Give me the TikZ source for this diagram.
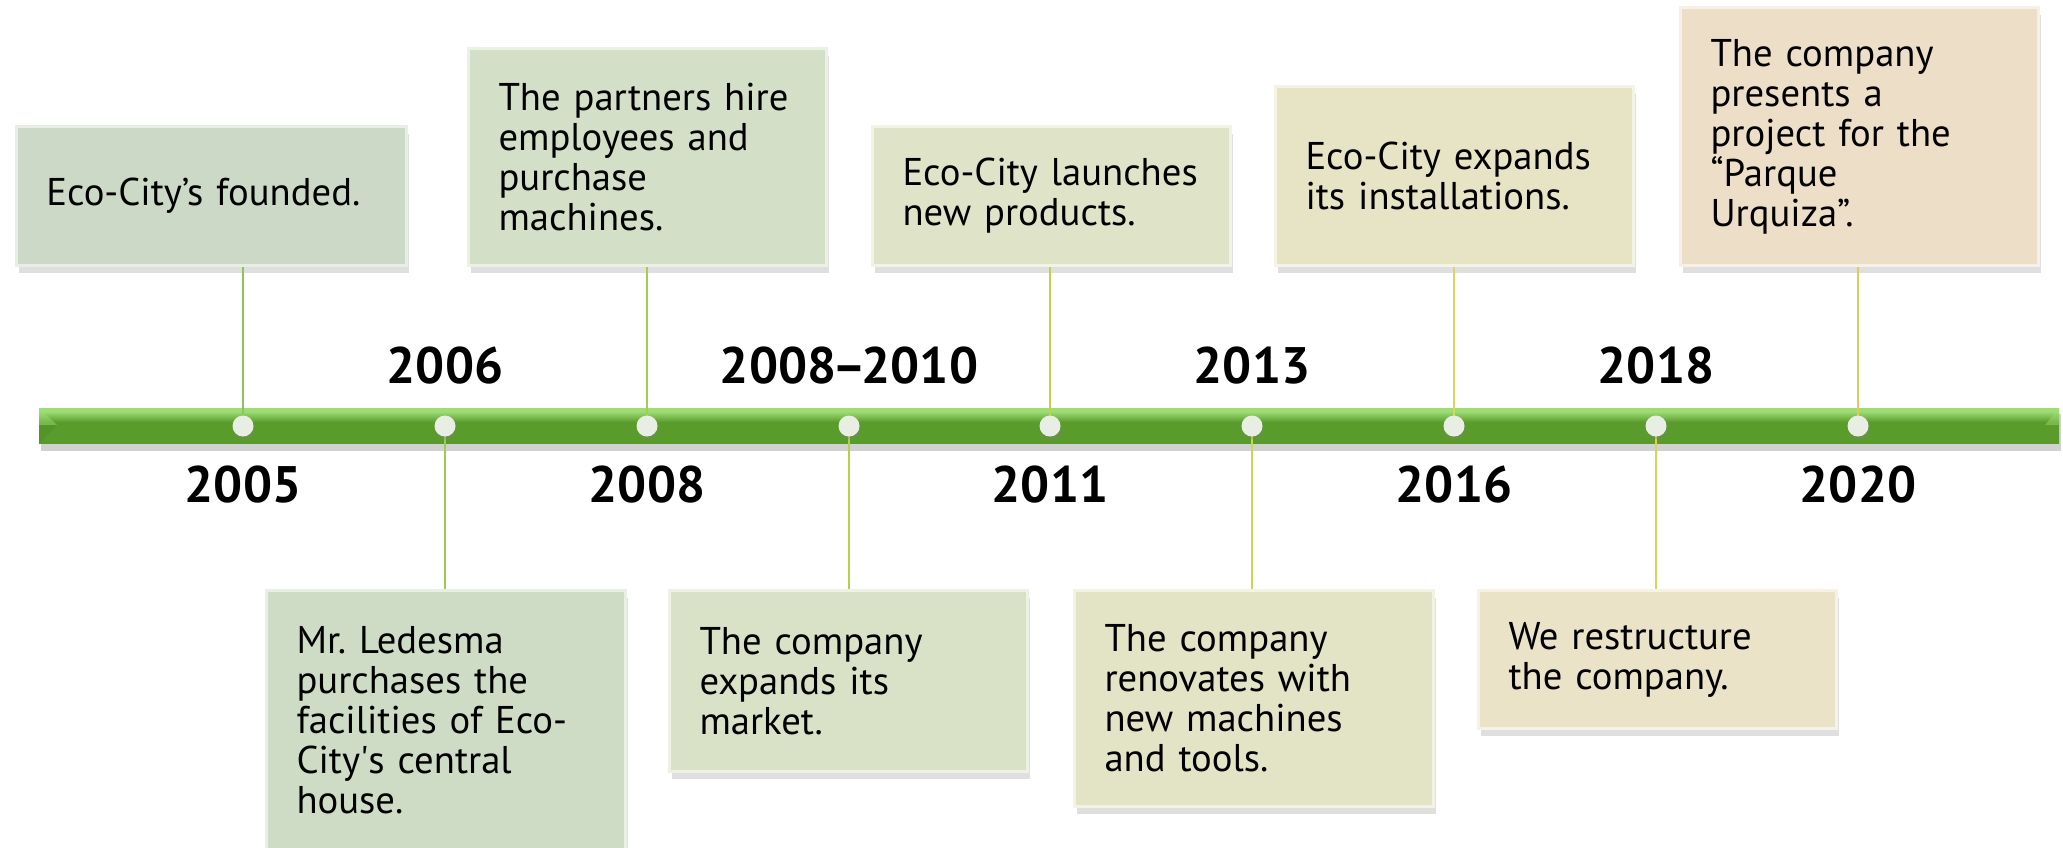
\documentclass[tikz,border=0pt]{standalone}
\usepackage{fontspec}
\setmainfont{PT Sans}
\usetikzlibrary{shadows}

\definecolor{boxA}{HTML}{CCD9C6}
\definecolor{boxB}{HTML}{CFDCC5}
\definecolor{boxC}{HTML}{D3DFC6}
\definecolor{boxD}{HTML}{D9E1C7}
\definecolor{boxE}{HTML}{DFE4C8}
\definecolor{boxF}{HTML}{E2E4C5}
\definecolor{boxG}{HTML}{E7E4C6}
\definecolor{boxH}{HTML}{EBE3C8}
\definecolor{boxI}{HTML}{EDDEC7}
\definecolor{lineA}{HTML}{8CC45A}
\definecolor{lineB}{HTML}{9BCA55}
\definecolor{lineC}{HTML}{A6CD50}
\definecolor{lineD}{HTML}{B4D14A}
\definecolor{lineE}{HTML}{BCD34A}
\definecolor{lineF}{HTML}{CAD84C}
\definecolor{lineG}{HTML}{DDD65A}
\definecolor{lineH}{HTML}{E3D052}
\definecolor{lineI}{HTML}{E6C85A}
\definecolor{bardark}{HTML}{4C8A22}
\definecolor{barmid}{HTML}{5A9C2C}
\definecolor{barlight}{HTML}{9EDC74}
\definecolor{dotfill}{HTML}{E8EEE4}

\pgfdeclareverticalshading{barshade}{100bp}{color(0bp)=(bardark); color(30bp)=(barmid); color(55bp)=(barmid); color(70bp)=(barlight); color(80bp)=(barlight); color(88bp)=(barmid!60!barlight); color(100bp)=(barmid!50!barlight)}

\begin{document}
\begin{tikzpicture}[x=0.1mm,y=-0.1mm,
event/.style ={rectangle, inner xsep=3mm, inner ysep=0pt, align=left,
  font=\fontsize{11pt}{11.4pt}\selectfont, draw=white!55!#1, line width=0.3mm,
  fill=#1, drop shadow={shadow xshift=0.2mm, shadow yshift=-0.7mm, opacity=0.25}
},
year/.style ={font=\fontsize{14.6pt}{16pt}\selectfont\bfseries, inner sep=0pt},
dot/.style ={circle, fill=dotfill, minimum size=2.1mm, inner sep=0pt,
  drop shadow={shadow xshift=0.1mm, shadow yshift=-0.3mm, opacity=0.3}
},
conn/.style ={line width=0.25mm}]
\useasboundingbox (0,0) rectangle (2063,847);

% the bar
\fill[black, opacity=0.18] (41,414) rectangle (2061,451);
\shade[shading=barshade] (39,408) rectangle (2059,443);
\fill[barlight, opacity=0.45] (39,408) -- (57,425) -- (39,425) -- cycle;
\fill[bardark, opacity=0.4] (39,443) -- (57,425) -- (39,425) -- cycle;
\fill[barlight, opacity=0.45] (2059,408) -- (2045,425) -- (2059,425) -- cycle;

% events above
\node (b1) at (15,267) [event=boxA, anchor=south west, text width=33mm, minimum height=13.9mm] {Eco-City’s founded.};
\node (b3) at (467,267) [event=boxC, anchor=south west, text width=29.8mm, minimum height=21.7mm] {The partners hire\\employees and\\purchase\\machines.};
\node (b5) at (871,267) [event=boxE, anchor=south west, text width=29.8mm, minimum height=13.9mm] {Eco-City launches\\new products.};
\node (b7) at (1274,267) [event=boxG, anchor=south west, text width=29.8mm, minimum height=17.9mm] {Eco-City expands\\its installations.};
\node (b9) at (1679,267) [event=boxI, anchor=south west, text width=29.8mm, minimum height=25.8mm] {The company\\presents a\\project for the\\“Parque\\Urquiza”.};

% events below
\node (b2) at (265,589) [event=boxB, anchor=north west, text width=29.9mm, minimum height=26mm] {Mr.\ Ledesma\\purchases the\\facilities of Eco-\\City\textquotesingle s central\\house.};
\node (b4) at (668,589) [event=boxD, anchor=north west, text width=29.8mm, minimum height=18.1mm] {The company\\expands its\\market.};
\node (b6) at (1073,589) [event=boxF, anchor=north west, text width=29.9mm, minimum height=21.6mm] {The company\\renovates with\\new machines\\and tools.};
\node (b8) at (1477,589) [event=boxH, anchor=north west, text width=29.8mm, minimum height=13.8mm] {We restructure\\the company.};

% dots on the bar
\coordinate (d1) at (243,426);
\coordinate (d2) at (445,426);
\coordinate (d3) at (647,426);
\coordinate (d4) at (849,426);
\coordinate (d5) at (1050,426);
\coordinate (d6) at (1252,426);
\coordinate (d7) at (1454,426);
\coordinate (d8) at (1656,426);
\coordinate (d9) at (1858,426);

% connectors
\draw[conn, lineA] (d1) -- (d1 |- b1.south);
\draw[conn, lineB] (d2) -- (d2 |- b2.north);
\draw[conn, lineC] (d3) -- (d3 |- b3.south);
\draw[conn, lineD] (d4) -- (d4 |- b4.north);
\draw[conn, lineE] (d5) -- (d5 |- b5.south);
\draw[conn, lineF] (d6) -- (d6 |- b6.north);
\draw[conn, lineG] (d7) -- (d7 |- b7.south);
\draw[conn, lineH] (d8) -- (d8 |- b8.north);
\draw[conn, lineI] (d9) -- (d9 |- b9.south);

\node (p1) at (d1) [dot] {};
\node (p2) at (d2) [dot] {};
\node (p3) at (d3) [dot] {};
\node (p4) at (d4) [dot] {};
\node (p5) at (d5) [dot] {};
\node (p6) at (d6) [dot] {};
\node (p7) at (d7) [dot] {};
\node (p8) at (d8) [dot] {};
\node (p9) at (d9) [dot] {};

% years
\node (y1) at (243,485) [year] {2005};
\node (y2) at (445,366) [year] {2006};
\node (y3) at (647,485) [year] {2008};
\node (y4) at (849,366) [year] {2008\kern-1.2pt–\kern-1.2pt2010};
\node (y5) at (1050,485) [year] {2011};
\node (y6) at (1252,366) [year] {2013};
\node (y7) at (1454,485) [year] {2016};
\node (y8) at (1656,366) [year] {2018};
\node (y9) at (1858,485) [year] {2020};
\end{tikzpicture}
\end{document}
